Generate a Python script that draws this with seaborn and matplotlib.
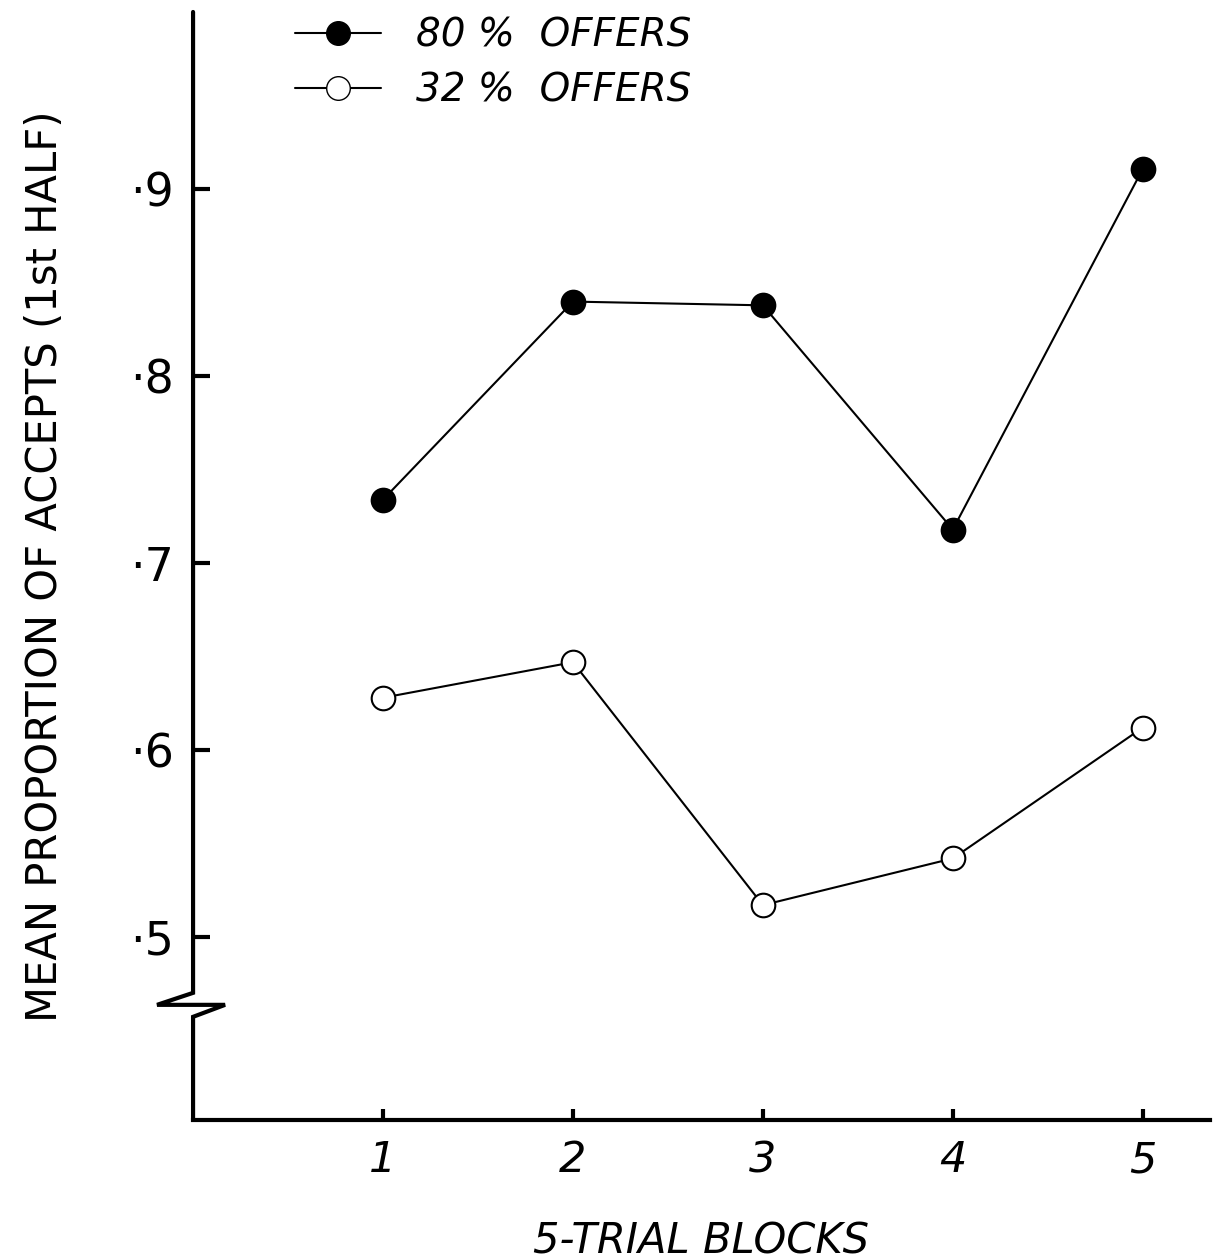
import matplotlib
matplotlib.use("Agg")
import matplotlib.pyplot as plt
import matplotlib.transforms as mtransforms
from matplotlib.lines import Line2D
import seaborn as sns
import pandas as pd

blocks = [1, 2, 3, 4, 5]
offers_80 = [0.734, 0.840, 0.838, 0.718, 0.911]
offers_32 = [0.628, 0.647, 0.517, 0.542, 0.612]
series_labels = ["80 %  OFFERS", "32 %  OFFERS"]
y_ticks = [0.5, 0.6, 0.7, 0.8, 0.9]
y_ticklabels = ["·5", "·6", "·7", "·8", "·9"]
x_label = "5-TRIAL BLOCKS"
y_label = "MEAN PROPORTION OF ACCEPTS (1st HALF)"

sns.set_theme(style="white")
plt.rcParams['font.family'] = ['DejaVu Sans']
plt.rcParams['text.color'] = 'black'
plt.rcParams['axes.labelcolor'] = 'black'
plt.rcParams['xtick.direction'] = 'in'
plt.rcParams['ytick.direction'] = 'in'
plt.rcParams['xtick.bottom'] = True
plt.rcParams['ytick.left'] = True

fig = plt.figure(figsize=(12.25, 12.6), dpi=100)
ax = fig.add_axes([0.1576, 0.1111, 0.830, 0.8794])

df80 = pd.DataFrame({"block": blocks, "prop": offers_80})
df32 = pd.DataFrame({"block": blocks, "prop": offers_32})

sns.lineplot(data=df80, x="block", y="prop", ax=ax, color="black", lw=1.5,
             marker="o", markersize=17, markerfacecolor="black",
             markeredgecolor="black", markeredgewidth=1.5, zorder=3)
sns.lineplot(data=df32, x="block", y="prop", ax=ax, color="black", lw=1.5,
             marker="o", markersize=17, markerfacecolor="white",
             markeredgecolor="black", markeredgewidth=1.5, zorder=3)

ax.set_xlim(0, 5.353)
ax.set_ylim(0.402, 0.995)

ax.set_xticks(blocks)
ax.set_xticklabels([str(b) for b in blocks], fontsize=31, fontstyle="italic")
ax.set_yticks(y_ticks)
ax.set_yticklabels(y_ticklabels, fontsize=33)
ax.tick_params(axis="x", bottom=True, direction="in", length=8, width=3,
               pad=14, colors="black")
ax.tick_params(axis="y", left=True, direction="in", length=12, width=3,
               pad=14, colors="black")

ax.set_xlabel(x_label, fontsize=30, fontstyle="italic", labelpad=28)
ax.set_ylabel(y_label, fontsize=30, labelpad=46)

for s in ["top", "right", "left"]:
    ax.spines[s].set_visible(False)
ax.spines["bottom"].set_linewidth(3)
ax.spines["bottom"].set_color("black")

# left spine with break zigzag (x in axes coords, y in data coords)
trans = mtransforms.blended_transform_factory(ax.transAxes, ax.transData)
dx = 1 / (0.830 * 1225)
dy = 0.1 / 187
y_top = 0.995
y_b1 = 0.5 - (993 - 937) * dy
y_b2 = 0.5 - (1005 - 937) * dy
y_b3 = 0.5 - (1017 - 937) * dy
xs = [0, 0, -36 * dx, 32 * dx, 0, 0]
ys = [y_top, y_b1, y_b2, y_b2, y_b3, 0.402]
ax.add_line(Line2D(xs, ys, transform=trans, color="black", lw=3,
                   clip_on=False, solid_joinstyle="miter"))

handles = [
    Line2D([], [], color="black", lw=1.5, marker="o", markersize=17,
           markerfacecolor="black", markeredgecolor="black"),
    Line2D([], [], color="black", lw=1.5, marker="o", markersize=17,
           markerfacecolor="white", markeredgecolor="black"),
]
leg = ax.legend(handles, series_labels, loc="upper left",
                bbox_to_anchor=(0.085, 1.01), frameon=False,
                prop={"size": 28, "style": "italic"}, handlelength=2.2,
                handletextpad=0.9, labelspacing=0.45, borderaxespad=0.0)
for t in leg.get_texts():
    t.set_color("black")

fig.savefig("out.png", dpi=100, facecolor="white")
